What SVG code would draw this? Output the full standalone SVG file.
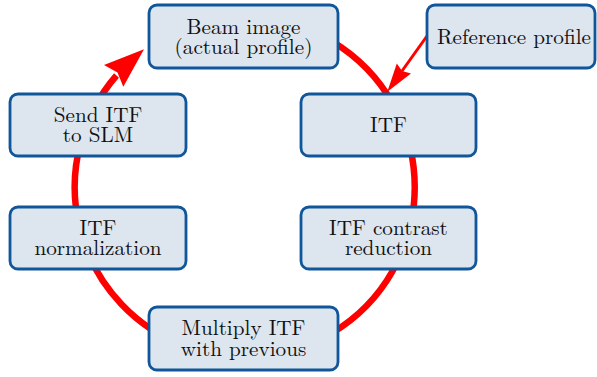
<svg xmlns="http://www.w3.org/2000/svg" width="597" height="377" viewBox="0 0 597 377">
<style>
.box{fill:#dde5ef;stroke:#10569a;stroke-width:2.8}
text{font-family:'Latin Modern Roman','CMU Serif','Liberation Serif','DejaVu Serif','Noto Serif','Tinos','Nimbus Roman','FreeSerif','Times New Roman',Times,serif;font-size:21.2px;fill:#111;text-anchor:middle}
.cyc{fill:none;stroke:#ff0000;stroke-width:6.5}
.ref{fill:none;stroke:#ff0000;stroke-width:3}
.head{fill:#ff0000}
</style>
<rect width="597" height="377" fill="#fff"/>
<g id="connectors">
<path class="cyc" d="M185.4 27.8 A170 170 0 1 1 116.5 75.5"/>
<polygon class="head" points="144,49.3 104,65 117.5,72.6 123.3,86.7"/>
<line class="ref" x1="427" y1="36" x2="402" y2="71"/>
<polygon class="head" points="387.3,91.7 396.8,63.4 402.1,71 411,73.4"/>
</g>
<g id="beam">
<rect class="box" x="149" y="5" width="189" height="63" rx="8"/>
<text x="243.5" y="33.5">Beam image</text>
<text x="243.5" y="54">(actual profile)</text>
</g>
<g id="reference">
<rect class="box" x="427" y="5" width="168" height="63" rx="8"/>
<text x="514" y="43.5">Reference profile</text>
</g>
<g id="itf">
<rect class="box" x="301" y="94" width="175" height="62" rx="8"/>
<text x="388.5" y="132">ITF</text>
</g>
<g id="send">
<rect class="box" x="10" y="94" width="176" height="62" rx="8"/>
<text x="98" y="121.5">Send ITF</text>
<text x="98" y="142">to SLM</text>
</g>
<g id="normalization">
<rect class="box" x="10" y="207" width="176" height="62" rx="8"/>
<text x="98" y="234.5">ITF</text>
<text x="98" y="255">normalization</text>
</g>
<g id="contrast">
<rect class="box" x="301" y="207" width="175" height="62" rx="8"/>
<text x="388.5" y="234.5">ITF contrast</text>
<text x="388.5" y="255">reduction</text>
</g>
<g id="multiply">
<rect class="box" x="149" y="307" width="189" height="63" rx="8"/>
<text x="243.5" y="335">Multiply ITF</text>
<text x="243.5" y="355.5">with previous</text>
</g>
</svg>
